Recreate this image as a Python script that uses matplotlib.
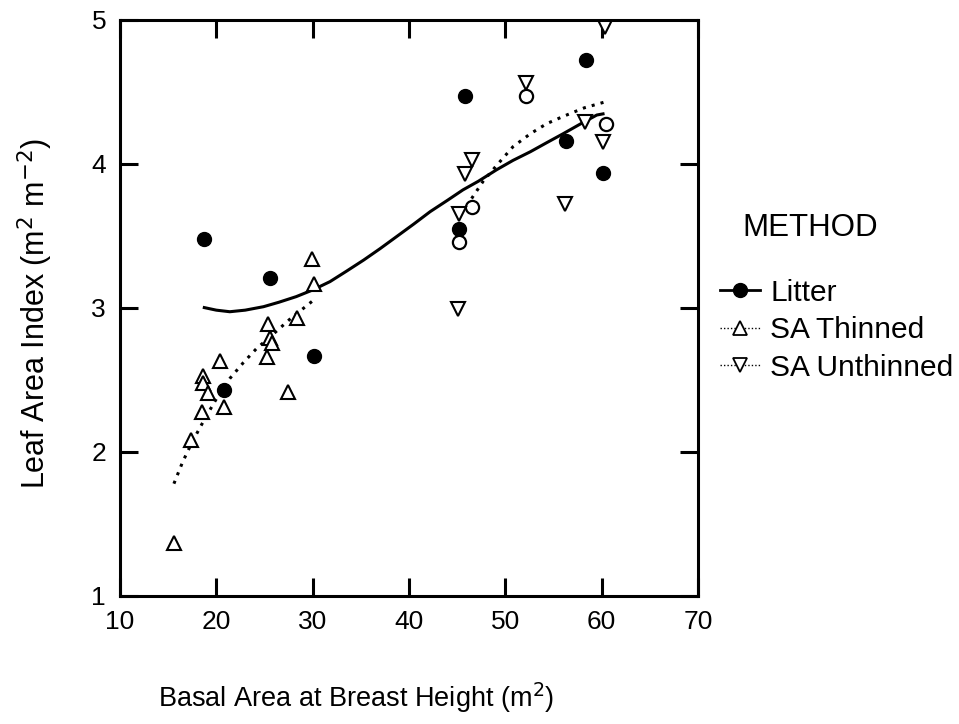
import matplotlib

matplotlib.use("Agg")
import matplotlib.pyplot as plt
from matplotlib.lines import Line2D

plt.rcParams["font.family"] = ["Liberation Sans", "DejaVu Sans"]

# point data
litter_x = [18.7, 25.6, 20.8, 30.1, 45.8, 45.2, 58.4, 56.3, 60.1]
litter_y = [3.48, 3.21, 2.43, 2.67, 4.47, 3.55, 4.72, 4.16, 3.94]

open_x = [52.2, 45.2, 46.5, 60.5]
open_y = [4.47, 3.46, 3.70, 4.28]

thinned_x = [29.9, 30.1, 28.4, 25.4, 25.6, 25.8, 25.3, 20.4, 18.6, 18.6,
             19.1, 20.8, 18.5, 27.4, 17.4, 15.6]
thinned_y = [3.34, 3.17, 2.93, 2.89, 2.79, 2.76, 2.66, 2.63, 2.53, 2.48,
             2.41, 2.31, 2.28, 2.42, 2.08, 1.37]

unthinned_x = [60.3, 52.2, 58.3, 60.1, 46.5, 45.8, 45.2, 56.2, 45.1]
unthinned_y = [4.95, 4.56, 4.29, 4.15, 4.03, 3.93, 3.65, 3.72, 2.99]

# fitted curves
litter_fit_x = [18.6, 20.0, 21.4, 23.0, 24.9, 26.5, 28.3, 30.0, 31.8, 33.5,
                35.3, 37.0, 38.7, 40.5, 42.2, 44.0, 45.6, 47.2, 49.1, 50.8,
                52.6, 54.3, 56.0, 57.8, 59.5, 60.3]
litter_fit_y = [3.005, 2.985, 2.974, 2.985, 3.009, 3.040, 3.079, 3.125, 3.183, 3.255,
                3.333, 3.412, 3.495, 3.583, 3.669, 3.748, 3.820, 3.880, 3.960, 4.025,
                4.085, 4.148, 4.210, 4.278, 4.340, 4.350]

thinned_fit_x = [15.6, 16.5, 17.5, 18.8, 20.1, 21.4, 22.8, 24.2, 25.6, 27.6, 30.2]
thinned_fit_y = [1.78, 1.93, 2.07, 2.23, 2.38, 2.51, 2.62, 2.72, 2.80, 2.92, 3.06]

unthinned_fit_x = [46.5, 47.7, 49.1, 50.8, 52.6, 54.3, 56.0, 58.2, 60.3]
unthinned_fit_y = [3.76, 3.88, 3.99, 4.12, 4.21, 4.28, 4.33, 4.39, 4.43]

x_ticks = [10, 20, 30, 40, 50, 60, 70]
y_ticks = [1, 2, 3, 4, 5]

DOT = (0, (1, 2))

fig = plt.figure(figsize=(9.59, 7.24), dpi=100)
ax = fig.add_axes([0.1251, 0.1768, 0.6027, 0.7956])

ax.plot(litter_fit_x, litter_fit_y, color="black", lw=2.2, solid_capstyle="butt")
ax.plot(thinned_fit_x, thinned_fit_y, color="black", lw=2.2, linestyle=DOT)
ax.plot(unthinned_fit_x, unthinned_fit_y, color="black", lw=2.2, linestyle=DOT)

ax.plot(litter_x, litter_y, "o", ms=10, color="black", linestyle="none")
ax.plot(open_x, open_y, "o", ms=9.5, mfc="white", mec="black", mew=1.6, linestyle="none")
ax.plot(thinned_x, thinned_y, "^", ms=10, mfc="white", mec="black", mew=1.5, linestyle="none")
ax.plot(unthinned_x, unthinned_y, "v", ms=10, mfc="white", mec="black", mew=1.5, linestyle="none")

ax.set_xlim(10, 70)
ax.set_ylim(1, 5)
ax.set_xticks(x_ticks)
ax.set_yticks(y_ticks)
ax.tick_params(direction="in", length=13, width=2.2, top=True, right=True,
               labelsize=19, pad=10)
for spine in ax.spines.values():
    spine.set_linewidth(2.2)

ax.set_xlabel("Basal Area at Breast Height (m$^2$)", fontsize=19.5)
ax.xaxis.set_label_coords(0.408, -0.146)
ax.set_ylabel("Leaf Area Index (m$^2$ m$^{-2}$)", fontsize=22)
ax.yaxis.set_label_coords(-0.113, 0.49)

handles = [
    Line2D([], [], color="black", lw=2.0, marker="o", ms=10),
    Line2D([], [], color="black", lw=1.0, linestyle=(0, (1, 1.5)), marker="^", ms=10,
           mfc="white", mew=1.3),
    Line2D([], [], color="black", lw=1.0, linestyle=(0, (1, 1.5)), marker="v", ms=10,
           mfc="white", mew=1.3),
]
labels = ["Litter", "SA Thinned", "SA Unthinned"]
fig.legend(handles, labels, loc="upper left", bbox_to_anchor=(0.751, 0.615),
           frameon=False, fontsize=21.5, handlelength=1.34, handletextpad=0.33,
           labelspacing=0.32, borderaxespad=0, borderpad=0)
fig.text(0.774, 0.685, "METHOD", fontsize=22.5, ha="left", va="center")

fig.savefig("out.png", dpi=100)
